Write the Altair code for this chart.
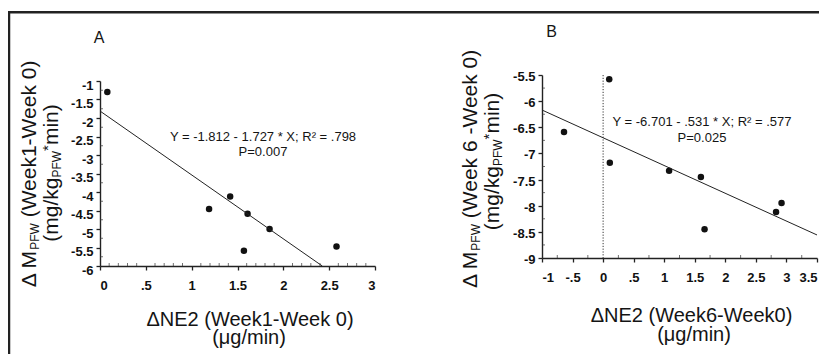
import altair as alt
import pandas as pd

FONT = "Liberation Sans"
INK = "#141414"

# ---------------- Panel A data ----------------
a_x = [0.08, 1.19, 1.42, 1.61, 1.85, 1.57, 2.58]
a_y = [-1.30, -4.46, -4.12, -4.59, -5.00, -5.59, -5.47]
a_intercept, a_slope = -1.812, -1.727
a_fit_x = [0.0, 2.425]
a_xdomain = [0, 3]
a_ydomain = [-6, -1]
a_xticks = [0, 0.5, 1, 1.5, 2, 2.5, 3]
a_yticks = [-6, -5.5, -5, -4.5, -4, -3.5, -3, -2.5, -2, -1.5, -1]
a_xminor = [0.1, 0.2, 0.3, 0.4, 0.6, 0.7, 0.8, 0.9, 1.1, 1.2, 1.3, 1.4,
            1.6, 1.7, 1.8, 1.9, 2.1, 2.2, 2.3, 2.4, 2.6, 2.7, 2.8, 2.9]
a_yminor = [-5.75, -5.25, -4.75, -4.25, -3.75, -3.25, -2.75, -2.25, -1.75, -1.25]
a_letter = "A"
a_equation = ["Y = -1.812 - 1.727 * X; R² = .798", "P=0.007"]
a_xtitle = ["ΔNE2 (Week1-Week 0)", "(μg/min)"]
# (text, kind, gap before in px)
a_ytitle = [[("Δ M", "n", 0), ("PFW", "sub", 0), ("(Week1-Week 0)", "n", 5.8)],
            [("(mg/kg", "n", 0), ("PFW", "sub", 0), ("*", "sup", 0), ("min)", "n", 0)]]

# ---------------- Panel B data ----------------
b_x = [-0.64, 0.10, 0.11, 1.08, 1.60, 1.66, 2.83, 2.92]
b_y = [-6.59, -5.58, -7.18, -7.33, -7.45, -8.45, -8.12, -7.95]
b_intercept, b_slope = -6.701, -0.531
b_fit_x = [-1.0, 3.5]
b_xdomain = [-1, 3.5]
b_ydomain = [-9, -5.5]
b_xticks = [-1, -0.5, 0, 0.5, 1, 1.5, 2, 2.5, 3, 3.5]
b_yticks = [-9, -8.5, -8, -7.5, -7, -6.5, -6, -5.5]
b_xminor = [-0.75, -0.25, 0.25, 0.75, 1.25, 1.75, 2.25, 2.75, 3.25]
b_yminor = [-8.75, -8.25, -7.75, -7.25, -6.75, -6.25, -5.75]
b_refline_x = [0]
b_letter = "B"
b_equation = ["Y = -6.701 - .531 * X; R² = .577", "P=0.025"]
b_xtitle = ["ΔNE2 (Week6-Week0)", "(μg/min)"]
b_ytitle = [[("Δ M", "n", 0), ("PFW", "sub", 0), ("(Week 6 -Week 0)", "n", 5.8)],
            [("(mg/kg", "n", 0), ("PFW", "sub", 0), ("*", "sup", 0), ("min)", "n", 0)]]

# Arial / Liberation Sans advance widths (per em) used to lay out the rotated titles
W = {' ': .278, '(': .333, ')': .333, '*': .389, '-': .333, '/': .278,
     'Δ': .668, 'M': .833, 'P': .667, 'F': .611, 'W': .944, 'e': .556, 'k': .5,
     'm': .833, 'g': .556, 'i': .222, 'n': .556}
for d in "0123456789":
    W[d] = .556


def tw(s, fs):
    return sum(W.get(c, .556) for c in s) * fs


LABEL_EXPR = ("(datum.value < 0 ? '-' : '') + "
              "replace(format(abs(datum.value), '.1~f'), '0.', '.')")

VIEW_W, VIEW_H = 719, 279        # drawing area right of / below panel A's origin
B_X0 = 442                       # panel B origin relative to panel A origin


def text_layer(txt, x, y, size, angle=0, align="center", baseline="alphabetic"):
    return alt.Chart(pd.DataFrame({"t": [txt]})).mark_text(
        font=FONT, fontSize=size, angle=angle, align=align, baseline=baseline,
        color=INK).encode(text="t:N", x=alt.value(x), y=alt.value(y))


KIND = {"n": (21, 0.0), "sub": (12, 2.5), "sup": (15, -5.0)}


def vtitle(pieces, bx, cy):
    total = sum(tw(t, KIND[k][0]) + g for t, k, g in pieces)
    start = cy + total / 2
    layers, cum = [], 0.0
    for t, k, g in pieces:
        fs, sh = KIND[k]
        cum += g
        layers.append(text_layer(t, bx + sh, start - cum, fs, angle=270, align="left"))
        cum += tw(t, fs)
    return layers


def axis(values, orient, pad, offset, label_offset=0):
    return alt.Axis(values=values, labelExpr=LABEL_EXPR, orient=orient, offset=offset,
                    grid=False, title=None, tickSize=4, tickWidth=1.3, tickColor="#222",
                    domainColor="#222", domainWidth=1.4, labelFont=FONT,
                    labelFontWeight="bold", labelFontSize=13, labelColor="#111",
                    labelPadding=pad, labelOffset=label_offset, labelOverlap=False,
                    tickCount=len(values))


def panel(x0, px, py, intercept, slope, fit_x, xdom, ydom, xt, yt, xminor, yminor,
          width, yrange, ylab_off, letter, letter_pos, eq, eq_pos,
          xtitle, xt_pos, ytitle, yt_pos, refline=None):
    axis_y = yrange[0]
    xs = alt.Scale(domain=xdom, range=[x0, x0 + width], nice=False, zero=False)
    ys = alt.Scale(domain=ydom, range=yrange, nice=False, zero=False)
    xax = axis(xt, "bottom", 9, axis_y - VIEW_H)
    yax = axis(yt, "left", 3, -x0, ylab_off)
    pts = pd.DataFrame({"x": px, "y": py})
    fit = pd.DataFrame({"x": fit_x, "y": [intercept + slope * v for v in fit_x]})
    base = alt.Chart(pts).mark_circle(size=42, color="#111", opacity=1).encode(
        x=alt.X("x:Q", scale=xs, axis=xax),
        y=alt.Y("y:Q", scale=ys, axis=yax))
    line = alt.Chart(fit).mark_line(color="#222", strokeWidth=1).encode(
        x=alt.X("x:Q", scale=xs, axis=xax), y=alt.Y("y:Q", scale=ys, axis=yax))
    xm = alt.Chart(pd.DataFrame({"x": xminor})).mark_tick(
        orient="vertical", size=3, thickness=1, color="#333").encode(
        x=alt.X("x:Q", scale=xs, axis=xax), y=alt.value(axis_y - 1.5))
    ym = alt.Chart(pd.DataFrame({"y": yminor})).mark_tick(
        orient="horizontal", size=3, thickness=1, color="#333").encode(
        y=alt.Y("y:Q", scale=ys, axis=yax), x=alt.value(x0 + 1.5))
    layers = [base, line, xm, ym]
    if refline is not None:
        layers.append(alt.Chart(pd.DataFrame({"x": refline})).mark_rule(
            color="#333", strokeWidth=1, strokeDash=[1.2, 1.6]).encode(
            x=alt.X("x:Q", scale=xs, axis=xax), y=alt.value(yrange[1]),
            y2=alt.value(axis_y)))
    layers.append(text_layer(letter, x0 + letter_pos[0], letter_pos[1], 16))
    layers.append(text_layer(eq[0], x0 + eq_pos[0], eq_pos[1], 13))
    layers.append(text_layer(eq[1], x0 + eq_pos[2], eq_pos[3], 13))
    layers.append(text_layer(xtitle[0], x0 + xt_pos[0], xt_pos[1], 20))
    layers.append(text_layer(xtitle[1], x0 + xt_pos[2], xt_pos[3], 20))
    layers += vtitle(ytitle[0], x0 + yt_pos[0], yt_pos[1])
    layers += vtitle(ytitle[1], x0 + yt_pos[2], yt_pos[3])
    return layers


# frame lines of the figure
frame_df = pd.DataFrame({"k": [0]})
frame_top = alt.Chart(frame_df).mark_rule(color="#222", strokeWidth=2.5, strokeCap="square").encode(
    x=alt.value(-91), x2=alt.value(728), y=alt.value(-62.7))
frame_left = alt.Chart(frame_df).mark_rule(color="#222", strokeWidth=2.5, strokeCap="square").encode(
    x=alt.value(-91), y=alt.value(-62.7), y2=alt.value(300))

A_layers = panel(0, a_x, a_y, a_intercept, a_slope, a_fit_x, a_xdomain, a_ydomain,
                 a_xticks, a_yticks, a_xminor, a_yminor, 275, [191, 6], 4,
                 a_letter, (-0.8, -31.7), a_equation, (163, 66, 163, 81),
                 a_xtitle, (150, 251, 149, 269), a_ytitle, (-64, 98.5, -42, 98))
A = alt.layer(*A_layers, frame_top, frame_left)

B_layers = panel(B_X0, b_x, b_y, b_intercept, b_slope, b_fit_x, b_xdomain, b_ydomain,
                 b_xticks, b_yticks, b_xminor, b_yminor, 275, [183, 0], 1.5,
                 b_letter, (9.5, -37.7), b_equation, (160, 51, 160, 67),
                 b_xtitle, (149.5, 246.7, 152, 266), b_ytitle, (-65, 93.5, -43, 86.5),
                 refline=b_refline_x)
B = alt.layer(*B_layers)

chart = alt.layer(A, B).resolve_scale(
    x="independent", y="independent").resolve_axis(
    x="independent", y="independent").properties(
    width=VIEW_W, height=VIEW_H,
    autosize=alt.AutoSizeParams(type="none"),
    padding={"left": 92, "top": 67, "right": 0, "bottom": 0},
).configure_view(strokeWidth=0)

chart.save("out.html", embed_options={"renderer": "svg", "actions": False})
